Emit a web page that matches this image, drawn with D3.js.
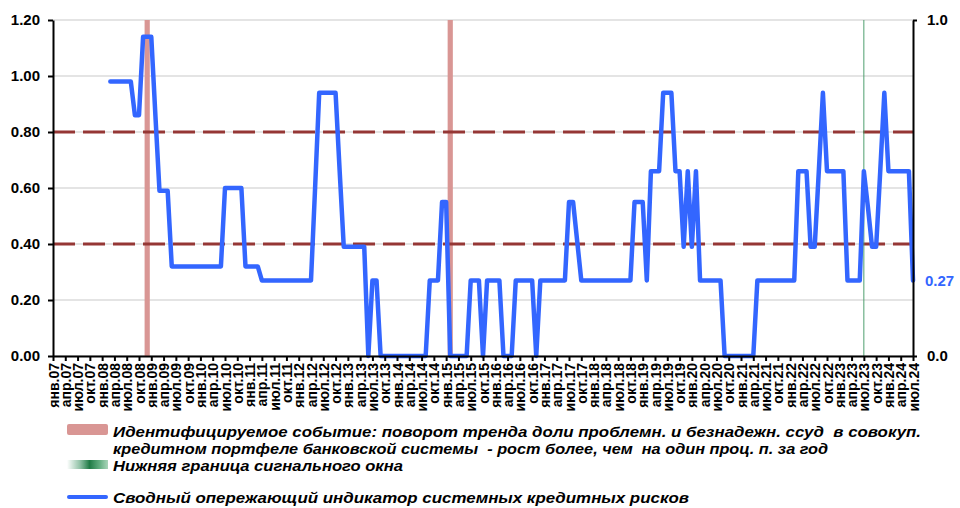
<!DOCTYPE html>
<html>
<head>
<meta charset="utf-8">
<script src="https://cdnjs.cloudflare.com/ajax/libs/d3/7.8.5/d3.min.js"></script>
<style>
  body { margin: 0; background: #fff; }
  svg { display: block; font-family: 'Liberation Sans', Arial, sans-serif; }
</style>
</head>
<body>
<div id="chart"></div>
<script>
let monthNames = ['янв', 'фев', 'мар', 'апр', 'май', 'июн', 'июл', 'авг', 'сен', 'окт', 'ноя', 'дек']
let years = ['07', '08', '09', '10', '11', '12', '13', '14', '15', '16', '17', '18', '19', '20', '21', '22', '23', '24']

// сводный индикатор, помесячно с янв.07 по июл.24
let indicator = [
  null, null, null, null, null, null, null, null, null, null, null, null,
  null, null, 0.98, 0.98, 0.98, 0.98, 0.98, 0.98, 0.86, 0.86, 1.14, 1.14,
  1.14, 0.86, 0.59, 0.59, 0.59, 0.32, 0.32, 0.32, 0.32, 0.32, 0.32, 0.32,
  0.32, 0.32, 0.32, 0.32, 0.32, 0.32, 0.60, 0.60, 0.60, 0.60, 0.60, 0.32,
  0.32, 0.32, 0.32, 0.27, 0.27, 0.27, 0.27, 0.27, 0.27, 0.27, 0.27, 0.27,
  0.27, 0.27, 0.27, 0.27, 0.60, 0.94, 0.94, 0.94, 0.94, 0.94, 0.66, 0.39,
  0.39, 0.39, 0.39, 0.39, 0.39, 0, 0.27, 0.27, 0, 0, 0, 0,
  0, 0, 0, 0, 0, 0, 0, 0, 0.27, 0.27, 0.27, 0.55,
  0.55, 0, 0, 0, 0, 0, 0.27, 0.27, 0.27, 0, 0.27, 0.27,
  0.27, 0.27, 0, 0, 0, 0.27, 0.27, 0.27, 0.27, 0.27, 0, 0.27,
  0.27, 0.27, 0.27, 0.27, 0.27, 0.27, 0.55, 0.55, 0.41, 0.27, 0.27, 0.27,
  0.27, 0.27, 0.27, 0.27, 0.27, 0.27, 0.27, 0.27, 0.27, 0.27, 0.55, 0.55,
  0.55, 0.27, 0.66, 0.66, 0.66, 0.94, 0.94, 0.94, 0.66, 0.66, 0.39, 0.66,
  0.39, 0.66, 0.27, 0.27, 0.27, 0.27, 0.27, 0.27, 0, 0, 0, 0,
  0, 0, 0, 0, 0.27, 0.27, 0.27, 0.27, 0.27, 0.27, 0.27, 0.27,
  0.27, 0.27, 0.66, 0.66, 0.66, 0.39, 0.39, 0.66, 0.94, 0.66, 0.66, 0.66,
  0.66, 0.66, 0.27, 0.27, 0.27, 0.27, 0.66, 0.53, 0.39, 0.39, 0.66, 0.94,
  0.66, 0.66, 0.66, 0.66, 0.66, 0.66, 0.27
]

let events = ['дек.08', 'фев.15']
let windowStart = ['июл.23']
let thresholds = [0.4, 0.8]
let leftTicks = [0, 0.2, 0.4, 0.6, 0.8, 1.0, 1.2]
let rightTicks = [0, 1]

let legendLabels = [
  'Идентифицируемое событие: поворот тренда доли проблемн. и безнадежн. ссуд  в совокуп.',
  'кредитном портфеле банковской системы  - рост более, чем  на один проц. п. за год',
  'Нижняя граница сигнального окна',
  'Сводный опережающий индикатор системных кредитных рисков'
]

let months = []
years.forEach(yy => monthNames.forEach(m => months.push(m + '.' + yy)))
months = months.slice(0, indicator.length)
let tickMonths = months.filter((d, i) => i % 3 === 0)

let width = 960
let height = 508
let margin = { top: 20, left: 53, right: 47, bottom: 152 }

let svg = d3
  .select('#chart')
  .append('svg')
  .attr('width', width)
  .attr('height', height)

let x = d3.scalePoint().domain(months).range([margin.left, width - margin.right])
let y = d3.scaleLinear().domain([0, 1.2]).range([height - margin.bottom, margin.top])
let y2 = d3.scaleLinear().domain([0, 1]).range([height - margin.bottom, margin.top])

let x0 = margin.left
let x1 = width - margin.right

svg
  .append('g')
  .selectAll('line')
  .data(leftTicks)
  .enter()
  .append('line')
  .attr('x1', x0)
  .attr('x2', x1)
  .attr('y1', d => y(d))
  .attr('y2', d => y(d))
  .attr('stroke', '#c9c9c9')
  .attr('stroke-width', 1)

svg
  .append('g')
  .selectAll('rect')
  .data(events)
  .enter()
  .append('rect')
  .attr('x', d => x(d) - 2.6)
  .attr('width', 5.2)
  .attr('y', y2(1))
  .attr('height', y2(0) - y2(1))
  .attr('fill', '#d99694')

svg
  .append('g')
  .selectAll('line')
  .data(thresholds)
  .enter()
  .append('line')
  .attr('x1', x0)
  .attr('x2', x1)
  .attr('y1', d => y(d))
  .attr('y2', d => y(d))
  .attr('stroke', '#953735')
  .attr('stroke-width', 3)
  .attr('stroke-dasharray', '22,8')

svg
  .append('g')
  .selectAll('line')
  .data(windowStart)
  .enter()
  .append('line')
  .attr('x1', d => x(d))
  .attr('x2', d => x(d))
  .attr('y1', y2(1))
  .attr('y2', y2(0))
  .attr('stroke', '#4f9f6f')
  .attr('stroke-width', 1)

let line = d3
  .line()
  .defined(d => d != null)
  .x((d, i) => x(months[i]))
  .y(d => y(d))

svg
  .append('path')
  .datum(indicator)
  .attr('d', line)
  .attr('fill', 'none')
  .attr('stroke', '#3366ff')
  .attr('stroke-width', 4.5)
  .attr('stroke-linejoin', 'round')
  .attr('stroke-linecap', 'round')

// оси
let yAxis = svg
  .append('g')
  .attr('transform', 'translate(' + x0 + ',0)')
  .call(d3.axisLeft(y).tickValues(leftTicks).tickFormat(d3.format('.2f')).tickSize(5).tickSizeOuter(0).tickPadding(8))

let y2Axis = svg
  .append('g')
  .attr('transform', 'translate(' + x1 + ',0)')
  .call(d3.axisRight(y2).tickValues(rightTicks).tickFormat(d3.format('.1f')).tickSize(4).tickSizeOuter(0).tickPadding(10))

let xAxis = svg
  .append('g')
  .attr('transform', 'translate(0,' + y(0) + ')')
  .call(d3.axisBottom(x).tickValues(tickMonths).tickSize(5).tickSizeOuter(0))

xAxis
  .selectAll('text')
  .attr('transform', 'rotate(-90)')
  .attr('text-anchor', 'end')
  .attr('x', -7)
  .attr('y', 0)
  .attr('dy', '0.36em')
  .attr('font-size', 14)

;[yAxis, y2Axis, xAxis].forEach(g => {
  g.selectAll('.domain').attr('stroke', '#000').attr('stroke-width', 2)
  g.selectAll('.tick line').attr('stroke', '#000').attr('stroke-width', 2)
  g.selectAll('text').attr('fill', '#000').attr('font-weight', 'bold')
})
yAxis.selectAll('text').attr('font-size', 15)
y2Axis.selectAll('text').attr('font-size', 15)

let last = indicator[indicator.length - 1]
svg
  .append('text')
  .attr('x', x1 + 12)
  .attr('y', y(last))
  .attr('dy', '0.35em')
  .attr('fill', '#3366ff')
  .attr('font-weight', 'bold')
  .attr('font-size', 15)
  .text(d3.format('.2f')(last))

// легенда
let defs = svg.append('defs')
let grad = defs
  .append('linearGradient')
  .attr('id', 'green-fade')
  .attr('x1', '0%')
  .attr('x2', '100%')
grad.append('stop').attr('offset', '0%').attr('stop-color', '#2e8b57').attr('stop-opacity', 0)
grad.append('stop').attr('offset', '30%').attr('stop-color', '#2e8b57').attr('stop-opacity', 0.5)
grad.append('stop').attr('offset', '55%').attr('stop-color', '#1f7a45').attr('stop-opacity', 1)
grad.append('stop').attr('offset', '80%').attr('stop-color', '#3c9a62').attr('stop-opacity', 0.8)
grad.append('stop').attr('offset', '100%').attr('stop-color', '#6fb88a').attr('stop-opacity', 0.6)

let legend = svg.append('g')

legend
  .append('rect')
  .attr('x', 67)
  .attr('y', 424)
  .attr('width', 41)
  .attr('height', 11)
  .attr('rx', 2)
  .attr('fill', '#d99694')

legend
  .append('rect')
  .attr('x', 67)
  .attr('y', 460)
  .attr('width', 41)
  .attr('height', 9)
  .attr('fill', 'url(#green-fade)')

legend
  .append('line')
  .attr('x1', 69)
  .attr('x2', 106)
  .attr('y1', 497)
  .attr('y2', 497)
  .attr('stroke', '#3366ff')
  .attr('stroke-width', 4)
  .attr('stroke-linecap', 'round')

let legendY = [437, 454, 471, 503]
let legendW = [808, 715, 290, 576]

legend
  .selectAll('text')
  .data(legendLabels)
  .enter()
  .append('text')
  .attr('x', 113)
  .attr('y', (d, i) => legendY[i])
  .attr('textLength', (d, i) => legendW[i])
  .attr('lengthAdjust', 'spacingAndGlyphs')
  .attr('font-size', 15)
  .attr('font-weight', 'bold')
  .attr('font-style', 'italic')
  .attr('fill', '#000')
  .style('white-space', 'pre')
  .text(d => d)
</script>
</body>
</html>
